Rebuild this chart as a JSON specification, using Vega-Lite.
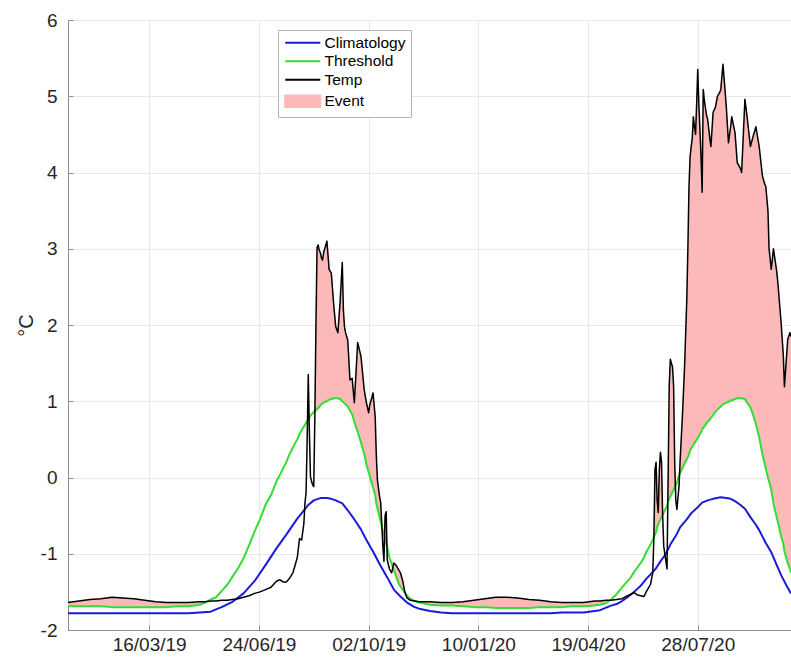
{
"$schema": "https://vega.github.io/schema/vega-lite/v6.json",
"width": 723, "height": 610,
"autosize": "none",
"padding": {"left": 68, "top": 20, "right": 0, "bottom": 29},
"background": "white",
"config": {
 "view": {"stroke": "#d9d9d9", "strokeWidth": 1},
 "font": "Liberation Sans",
 "axis": {"labelFont": "Liberation Sans", "labelFontSize": 19, "labelColor": "#262626", "gridColor": "#e8e8e8", "domainColor": "#8c8c8c", "tickColor": "#8c8c8c", "tickSize": -5, "titleFont": "Liberation Sans", "titleFontSize": 20, "titleFontWeight": "normal", "titleColor": "#262626"}
},
"data": {"values": [
{"date":"2019-01-01","temp":-1.64,"thr":-1.69,"ev":-1.64,"clim":-1.78},
{"date":"2019-01-11","temp":-1.62,"thr":-1.69,"ev":-1.62,"clim":-1.78},
{"date":"2019-01-21","temp":-1.60,"thr":-1.69,"ev":-1.60,"clim":-1.78},
{"date":"2019-01-31","temp":-1.59,"thr":-1.69,"ev":-1.59,"clim":-1.78},
{"date":"2019-02-10","temp":-1.57,"thr":-1.70,"ev":-1.57,"clim":-1.78},
{"date":"2019-02-20","temp":-1.58,"thr":-1.70,"ev":-1.58,"clim":-1.78},
{"date":"2019-03-02","temp":-1.59,"thr":-1.70,"ev":-1.59,"clim":-1.78},
{"date":"2019-03-12","temp":-1.61,"thr":-1.70,"ev":-1.61,"clim":-1.78},
{"date":"2019-03-22","temp":-1.63,"thr":-1.70,"ev":-1.63,"clim":-1.78},
{"date":"2019-04-01","temp":-1.64,"thr":-1.70,"ev":-1.64,"clim":-1.78},
{"date":"2019-04-11","temp":-1.64,"thr":-1.69,"ev":-1.64,"clim":-1.78},
{"date":"2019-04-21","temp":-1.64,"thr":-1.69,"ev":-1.64,"clim":-1.78},
{"date":"2019-05-01","temp":-1.63,"thr":-1.67,"ev":-1.63,"clim":-1.77},
{"date":"2019-05-06","temp":-1.63,"thr":-1.64,"ev":-1.63},
{"date":"2019-05-11","temp":-1.62,"thr":-1.60,"ev":-1.60,"clim":-1.76},
{"date":"2019-05-16","temp":-1.62,"thr":-1.57,"ev":-1.57},
{"date":"2019-05-21","temp":-1.61,"thr":-1.49,"ev":-1.49,"clim":-1.70},
{"date":"2019-05-26","temp":-1.61,"thr":-1.41,"ev":-1.41},
{"date":"2019-05-31","temp":-1.60,"thr":-1.30,"ev":-1.30,"clim":-1.63},
{"date":"2019-06-05","temp":-1.59,"thr":-1.19,"ev":-1.19},
{"date":"2019-06-10","temp":-1.57,"thr":-1.06,"ev":-1.06,"clim":-1.52},
{"date":"2019-06-15","temp":-1.55,"thr":-0.89,"ev":-0.89},
{"date":"2019-06-20","temp":-1.52,"thr":-0.71,"ev":-0.71,"clim":-1.36},
{"date":"2019-06-25","temp":-1.50,"thr":-0.55,"ev":-0.55},
{"date":"2019-06-30","temp":-1.47,"thr":-0.36,"ev":-0.36,"clim":-1.15},
{"date":"2019-07-05","temp":-1.44,"thr":-0.23,"ev":-0.23},
{"date":"2019-07-10","temp":-1.36,"thr":-0.05,"ev":-0.05,"clim":-0.93},
{"date":"2019-07-13","temp":-1.34,"thr":0.03,"ev":0.03},
{"date":"2019-07-16","temp":-1.37,"thr":0.12,"ev":0.12},
{"date":"2019-07-19","temp":-1.37,"thr":0.20,"ev":0.20,"clim":-0.75},
{"date":"2019-07-22","temp":-1.32,"thr":0.31,"ev":0.31},
{"date":"2019-07-25","temp":-1.25,"thr":0.39,"ev":0.39},
{"date":"2019-07-27","temp":-1.15,"thr":0.45,"ev":0.45},
{"date":"2019-07-29","temp":-1.05,"thr":0.50,"ev":0.50,"clim":-0.54},
{"date":"2019-07-31","temp":-0.80,"thr":0.57,"ev":0.57},
{"date":"2019-08-02","temp":-0.82,"thr":0.62,"ev":0.62},
{"date":"2019-08-04","temp":-0.60,"thr":0.67,"ev":0.67},
{"date":"2019-08-05","temp":-0.33,"thr":0.69,"ev":0.69},
{"date":"2019-08-06","temp":-0.20,"thr":0.72,"ev":0.72},
{"date":"2019-08-07","temp":0.50,"thr":0.74,"ev":0.74},
{"date":"2019-08-08","temp":1.35,"thr":0.76,"ev":1.35,"clim":-0.36},
{"date":"2019-08-09","temp":0.60,"thr":0.79,"ev":0.79},
{"date":"2019-08-10","temp":0.01,"thr":0.81,"ev":0.81},
{"date":"2019-08-11","temp":-0.05,"thr":0.83,"ev":0.83},
{"date":"2019-08-12","temp":-0.10,"thr":0.84,"ev":0.84},
{"date":"2019-08-13","temp":-0.12,"thr":0.86,"ev":0.86,"clim":-0.30},
{"date":"2019-08-14","temp":0.80,"thr":0.87,"ev":0.87},
{"date":"2019-08-15","temp":2.00,"thr":0.88,"ev":2.00},
{"date":"2019-08-16","temp":3.02,"thr":0.90,"ev":3.02},
{"date":"2019-08-17","temp":3.05,"thr":0.91,"ev":3.05},
{"date":"2019-08-18","temp":2.98,"thr":0.92,"ev":2.98},
{"date":"2019-08-19","temp":2.95,"thr":0.95,"ev":2.95,"clim":-0.27},
{"date":"2019-08-20","temp":2.88,"thr":0.96,"ev":2.88},
{"date":"2019-08-21","temp":2.85,"thr":0.97,"ev":2.85},
{"date":"2019-08-22","temp":2.95,"thr":0.98,"ev":2.95},
{"date":"2019-08-23","temp":3.00,"thr":0.99,"ev":3.00},
{"date":"2019-08-25","temp":3.10,"thr":1.00,"ev":3.10,"clim":-0.27},
{"date":"2019-08-27","temp":2.73,"thr":1.02,"ev":2.73},
{"date":"2019-08-29","temp":2.68,"thr":1.03,"ev":2.68,"clim":-0.28},
{"date":"2019-08-31","temp":2.30,"thr":1.04,"ev":2.30},
{"date":"2019-09-02","temp":1.98,"thr":1.04,"ev":1.98,"clim":-0.30},
{"date":"2019-09-04","temp":1.90,"thr":1.04,"ev":1.90},
{"date":"2019-09-06","temp":2.30,"thr":1.03,"ev":2.30},
{"date":"2019-09-08","temp":2.82,"thr":1.00,"ev":2.82,"clim":-0.34},
{"date":"2019-09-09","temp":2.20,"thr":0.99,"ev":2.20},
{"date":"2019-09-10","temp":1.98,"thr":0.97,"ev":1.98},
{"date":"2019-09-11","temp":1.90,"thr":0.96,"ev":1.90},
{"date":"2019-09-13","temp":1.80,"thr":0.93,"ev":1.80,"clim":-0.43},
{"date":"2019-09-15","temp":1.28,"thr":0.88,"ev":1.28},
{"date":"2019-09-17","temp":1.30,"thr":0.83,"ev":1.30},
{"date":"2019-09-19","temp":0.98,"thr":0.73,"ev":0.98,"clim":-0.55},
{"date":"2019-09-21","temp":1.50,"thr":0.64,"ev":1.50},
{"date":"2019-09-22","temp":1.77,"thr":0.60,"ev":1.77},
{"date":"2019-09-24","temp":1.65,"thr":0.51,"ev":1.65},
{"date":"2019-09-25","temp":1.59,"thr":0.46,"ev":1.59,"clim":-0.68},
{"date":"2019-09-27","temp":1.30,"thr":0.36,"ev":1.30},
{"date":"2019-09-28","temp":1.15,"thr":0.31,"ev":1.15},
{"date":"2019-09-30","temp":0.98,"thr":0.17,"ev":0.98,"clim":-0.82},
{"date":"2019-10-02","temp":0.85,"thr":0.07,"ev":0.85},
{"date":"2019-10-03","temp":0.95,"thr":0.02,"ev":0.95},
{"date":"2019-10-05","temp":1.05,"thr":-0.08,"ev":1.05},
{"date":"2019-10-06","temp":1.11,"thr":-0.13,"ev":1.11,"clim":-0.97},
{"date":"2019-10-08","temp":0.80,"thr":-0.23,"ev":0.80},
{"date":"2019-10-09","temp":0.30,"thr":-0.34,"ev":0.30},
{"date":"2019-10-10","temp":-0.03,"thr":-0.40,"ev":-0.03},
{"date":"2019-10-12","temp":-0.25,"thr":-0.52,"ev":-0.25},
{"date":"2019-10-13","temp":-0.33,"thr":-0.58,"ev":-0.33,"clim":-1.16},
{"date":"2019-10-15","temp":-0.90,"thr":-0.70,"ev":-0.70},
{"date":"2019-10-16","temp":-1.10,"thr":-0.75,"ev":-0.75},
{"date":"2019-10-17","temp":-0.50,"thr":-0.81,"ev":-0.50},
{"date":"2019-10-18","temp":-0.45,"thr":-0.86,"ev":-0.45},
{"date":"2019-10-19","temp":-1.08,"thr":-0.91,"ev":-0.91,"clim":-1.31},
{"date":"2019-10-21","temp":-1.20,"thr":-1.05,"ev":-1.05},
{"date":"2019-10-23","temp":-1.25,"thr":-1.13,"ev":-1.13},
{"date":"2019-10-25","temp":-1.12,"thr":-1.22,"ev":-1.12,"clim":-1.47},
{"date":"2019-10-27","temp":-1.15,"thr":-1.29,"ev":-1.15},
{"date":"2019-10-29","temp":-1.20,"thr":-1.38,"ev":-1.20},
{"date":"2019-10-31","temp":-1.25,"thr":-1.43,"ev":-1.25,"clim":-1.56},
{"date":"2019-11-02","temp":-1.35,"thr":-1.47,"ev":-1.35},
{"date":"2019-11-04","temp":-1.50,"thr":-1.51,"ev":-1.50},
{"date":"2019-11-06","temp":-1.58,"thr":-1.55,"ev":-1.55,"clim":-1.64},
{"date":"2019-11-09","temp":-1.61,"thr":-1.59,"ev":-1.59},
{"date":"2019-11-13","temp":-1.62,"thr":-1.62,"ev":-1.62,"clim":-1.70},
{"date":"2019-11-17","temp":-1.63,"thr":-1.64,"ev":-1.63,"clim":-1.72},
{"date":"2019-11-27","temp":-1.63,"thr":-1.67,"ev":-1.63,"clim":-1.75},
{"date":"2019-12-07","temp":-1.64,"thr":-1.68,"ev":-1.64,"clim":-1.77},
{"date":"2019-12-17","temp":-1.64,"thr":-1.68,"ev":-1.64,"clim":-1.78},
{"date":"2019-12-27","temp":-1.63,"thr":-1.69,"ev":-1.63,"clim":-1.78},
{"date":"2020-01-06","temp":-1.61,"thr":-1.70,"ev":-1.61,"clim":-1.78},
{"date":"2020-01-16","temp":-1.59,"thr":-1.70,"ev":-1.59,"clim":-1.78},
{"date":"2020-01-26","temp":-1.57,"thr":-1.71,"ev":-1.57,"clim":-1.78},
{"date":"2020-02-05","temp":-1.57,"thr":-1.71,"ev":-1.57,"clim":-1.78},
{"date":"2020-02-15","temp":-1.58,"thr":-1.71,"ev":-1.58,"clim":-1.78},
{"date":"2020-02-25","temp":-1.60,"thr":-1.71,"ev":-1.60,"clim":-1.78},
{"date":"2020-03-06","temp":-1.61,"thr":-1.70,"ev":-1.61,"clim":-1.78},
{"date":"2020-03-16","temp":-1.63,"thr":-1.70,"ev":-1.63,"clim":-1.78},
{"date":"2020-03-26","temp":-1.64,"thr":-1.70,"ev":-1.64,"clim":-1.77},
{"date":"2020-04-05","temp":-1.64,"thr":-1.69,"ev":-1.64,"clim":-1.77},
{"date":"2020-04-15","temp":-1.64,"thr":-1.69,"ev":-1.64,"clim":-1.77},
{"date":"2020-04-25","temp":-1.62,"thr":-1.68,"ev":-1.62,"clim":-1.75},
{"date":"2020-04-30","temp":-1.62,"thr":-1.67,"ev":-1.62,"clim":-1.74},
{"date":"2020-05-05","temp":-1.61,"thr":-1.65,"ev":-1.61,"clim":-1.71},
{"date":"2020-05-10","temp":-1.61,"thr":-1.60,"ev":-1.60,"clim":-1.68},
{"date":"2020-05-15","temp":-1.60,"thr":-1.53,"ev":-1.53,"clim":-1.66},
{"date":"2020-05-20","temp":-1.59,"thr":-1.44,"ev":-1.44,"clim":-1.62},
{"date":"2020-05-25","temp":-1.55,"thr":-1.36,"ev":-1.36,"clim":-1.57},
{"date":"2020-05-28","temp":-1.53,"thr":-1.31,"ev":-1.31},
{"date":"2020-05-31","temp":-1.51,"thr":-1.24,"ev":-1.24,"clim":-1.50},
{"date":"2020-06-03","temp":-1.54,"thr":-1.18,"ev":-1.18},
{"date":"2020-06-06","temp":-1.55,"thr":-1.12,"ev":-1.12,"clim":-1.42},
{"date":"2020-06-09","temp":-1.56,"thr":-1.05,"ev":-1.05},
{"date":"2020-06-11","temp":-1.50,"thr":-0.98,"ev":-0.98,"clim":-1.33},
{"date":"2020-06-13","temp":-1.45,"thr":-0.93,"ev":-0.93},
{"date":"2020-06-15","temp":-1.40,"thr":-0.88,"ev":-0.88,"clim":-1.27},
{"date":"2020-06-16","temp":-1.32,"thr":-0.85,"ev":-0.85},
{"date":"2020-06-17","temp":-1.25,"thr":-0.82,"ev":-0.82},
{"date":"2020-06-18","temp":-0.80,"thr":-0.78,"ev":-0.78},
{"date":"2020-06-19","temp":0.10,"thr":-0.75,"ev":0.10},
{"date":"2020-06-20","temp":0.20,"thr":-0.72,"ev":0.20,"clim":-1.19},
{"date":"2020-06-21","temp":-0.30,"thr":-0.65,"ev":-0.30},
{"date":"2020-06-22","temp":-0.46,"thr":-0.62,"ev":-0.46},
{"date":"2020-06-23","temp":0.10,"thr":-0.58,"ev":0.10},
{"date":"2020-06-24","temp":0.33,"thr":-0.55,"ev":0.33,"clim":-1.10},
{"date":"2020-06-25","temp":0.20,"thr":-0.52,"ev":0.20},
{"date":"2020-06-26","temp":-0.50,"thr":-0.49,"ev":-0.49},
{"date":"2020-06-27","temp":-0.90,"thr":-0.46,"ev":-0.46},
{"date":"2020-06-29","temp":-1.10,"thr":-0.40,"ev":-0.40,"clim":-1.00},
{"date":"2020-06-30","temp":-1.20,"thr":-0.37,"ev":-0.37},
{"date":"2020-07-01","temp":0.00,"thr":-0.31,"ev":0.00},
{"date":"2020-07-02","temp":1.20,"thr":-0.28,"ev":1.20},
{"date":"2020-07-03","temp":1.55,"thr":-0.25,"ev":1.55,"clim":-0.88},
{"date":"2020-07-04","temp":1.50,"thr":-0.22,"ev":1.50},
{"date":"2020-07-05","temp":1.45,"thr":-0.19,"ev":1.45},
{"date":"2020-07-06","temp":1.20,"thr":-0.16,"ev":1.20},
{"date":"2020-07-07","temp":0.20,"thr":-0.13,"ev":0.20},
{"date":"2020-07-08","temp":-0.30,"thr":-0.10,"ev":-0.10},
{"date":"2020-07-09","temp":-0.42,"thr":-0.07,"ev":-0.07,"clim":-0.74},
{"date":"2020-07-11","temp":-0.10,"thr":0.03,"ev":0.03},
{"date":"2020-07-12","temp":0.24,"thr":0.06,"ev":0.24,"clim":-0.65},
{"date":"2020-07-14","temp":0.80,"thr":0.12,"ev":0.80},
{"date":"2020-07-16","temp":1.46,"thr":0.18,"ev":1.46},
{"date":"2020-07-18","temp":2.33,"thr":0.24,"ev":2.33,"clim":-0.55},
{"date":"2020-07-19","temp":3.00,"thr":0.27,"ev":3.00},
{"date":"2020-07-20","temp":3.80,"thr":0.30,"ev":3.80},
{"date":"2020-07-21","temp":4.20,"thr":0.35,"ev":4.20},
{"date":"2020-07-22","temp":4.34,"thr":0.38,"ev":4.34,"clim":-0.47},
{"date":"2020-07-23","temp":4.45,"thr":0.40,"ev":4.45},
{"date":"2020-07-24","temp":4.73,"thr":0.43,"ev":4.73},
{"date":"2020-07-25","temp":4.60,"thr":0.45,"ev":4.60},
{"date":"2020-07-26","temp":4.50,"thr":0.47,"ev":4.50},
{"date":"2020-07-27","temp":4.90,"thr":0.50,"ev":4.90},
{"date":"2020-07-28","temp":5.35,"thr":0.52,"ev":5.35,"clim":-0.39},
{"date":"2020-07-29","temp":4.90,"thr":0.54,"ev":4.90},
{"date":"2020-07-30","temp":4.56,"thr":0.57,"ev":4.56},
{"date":"2020-07-31","temp":4.20,"thr":0.59,"ev":4.20},
{"date":"2020-08-01","temp":3.74,"thr":0.63,"ev":3.74,"clim":-0.33},
{"date":"2020-08-02","temp":5.09,"thr":0.65,"ev":5.09},
{"date":"2020-08-03","temp":4.95,"thr":0.67,"ev":4.95},
{"date":"2020-08-04","temp":4.85,"thr":0.69,"ev":4.85},
{"date":"2020-08-05","temp":4.75,"thr":0.71,"ev":4.75},
{"date":"2020-08-06","temp":4.70,"thr":0.73,"ev":4.70,"clim":-0.30},
{"date":"2020-08-08","temp":4.45,"thr":0.76,"ev":4.45},
{"date":"2020-08-09","temp":4.34,"thr":0.78,"ev":4.34},
{"date":"2020-08-11","temp":4.79,"thr":0.82,"ev":4.79,"clim":-0.28},
{"date":"2020-08-13","temp":4.85,"thr":0.86,"ev":4.85},
{"date":"2020-08-15","temp":5.00,"thr":0.89,"ev":5.00},
{"date":"2020-08-17","temp":5.05,"thr":0.92,"ev":5.05},
{"date":"2020-08-18","temp":5.09,"thr":0.93,"ev":5.09,"clim":-0.26},
{"date":"2020-08-20","temp":5.42,"thr":0.96,"ev":5.42},
{"date":"2020-08-23","temp":4.87,"thr":0.98,"ev":4.87,"clim":-0.27},
{"date":"2020-08-25","temp":4.39,"thr":0.99,"ev":4.39},
{"date":"2020-08-27","temp":4.60,"thr":1.01,"ev":4.60,"clim":-0.28},
{"date":"2020-08-28","temp":4.73,"thr":1.01,"ev":4.73},
{"date":"2020-08-31","temp":4.52,"thr":1.03,"ev":4.52,"clim":-0.31},
{"date":"2020-09-02","temp":4.13,"thr":1.04,"ev":4.13},
{"date":"2020-09-05","temp":4.05,"thr":1.04,"ev":4.05,"clim":-0.36},
{"date":"2020-09-06","temp":4.00,"thr":1.04,"ev":4.00},
{"date":"2020-09-09","temp":4.96,"thr":1.03,"ev":4.96,"clim":-0.41},
{"date":"2020-09-11","temp":4.73,"thr":0.98,"ev":4.73},
{"date":"2020-09-14","temp":4.34,"thr":0.92,"ev":4.34,"clim":-0.52},
{"date":"2020-09-16","temp":4.45,"thr":0.84,"ev":4.45},
{"date":"2020-09-19","temp":4.60,"thr":0.70,"ev":4.60,"clim":-0.62},
{"date":"2020-09-22","temp":4.34,"thr":0.53,"ev":4.34,"clim":-0.69},
{"date":"2020-09-25","temp":3.95,"thr":0.30,"ev":3.95},
{"date":"2020-09-27","temp":3.85,"thr":0.18,"ev":3.85},
{"date":"2020-09-28","temp":3.82,"thr":0.12,"ev":3.82,"clim":-0.86},
{"date":"2020-09-30","temp":3.50,"thr":0.00,"ev":3.50},
{"date":"2020-10-01","temp":3.00,"thr":-0.05,"ev":3.00},
{"date":"2020-10-03","temp":2.73,"thr":-0.16,"ev":2.73,"clim":-0.98},
{"date":"2020-10-05","temp":3.00,"thr":-0.34,"ev":3.00},
{"date":"2020-10-06","temp":2.90,"thr":-0.40,"ev":2.90},
{"date":"2020-10-08","temp":2.70,"thr":-0.52,"ev":2.70,"clim":-1.15},
{"date":"2020-10-09","temp":2.56,"thr":-0.58,"ev":2.56},
{"date":"2020-10-12","temp":2.03,"thr":-0.77,"ev":2.03,"clim":-1.28},
{"date":"2020-10-14","temp":1.60,"thr":-0.87,"ev":1.60},
{"date":"2020-10-15","temp":1.19,"thr":-0.97,"ev":1.19},
{"date":"2020-10-17","temp":1.60,"thr":-1.07,"ev":1.60,"clim":-1.42},
{"date":"2020-10-18","temp":1.81,"thr":-1.12,"ev":1.81},
{"date":"2020-10-20","temp":1.90,"thr":-1.20,"ev":1.90},
{"date":"2020-10-21","temp":1.85,"thr":-1.25,"ev":1.85,"clim":-1.52}
]},
"encoding": {
 "x": {"field": "date", "type": "temporal",
  "scale": {"type": "utc", "domain": [{"year":2019,"month":1,"date":1,"utc":true},{"year":2020,"month":10,"date":21,"utc":true}]},
  "axis": {"title": null, "grid": true, "format": "%d/%m/%y", "labelPadding": 10, "labelOverlap": false, "labelFlush": false,
   "values": [{"year":2019,"month":3,"date":16,"utc":true},{"year":2019,"month":6,"date":24,"utc":true},{"year":2019,"month":10,"date":2,"utc":true},{"year":2020,"month":1,"date":10,"utc":true},{"year":2020,"month":4,"date":19,"utc":true},{"year":2020,"month":7,"date":28,"utc":true}]}}
},
"layer": [
 {"mark": {"type": "area", "interpolate": "linear"},
  "encoding": {
   "y": {"field": "ev", "type": "quantitative", "title": "°C",
    "scale": {"domain": [-2, 6], "nice": false, "zero": false},
    "axis": {"grid": true, "values": [-2,-1,0,1,2,3,4,5,6], "labelExpr": "'' + datum.value", "labelPadding": 16, "titlePadding": 4}},
   "y2": {"field": "thr"},
   "color": {"datum": "Event", "type": "nominal",
    "scale": {"domain": ["Climatology","Threshold","Temp","Event"], "range": ["#1a1ad9","#33dd33","#000000","#fbb9b9"]},
    "legend": {"orient": "none", "legendX": 210, "legendY": 10, "title": null, "padding": 5,
     "strokeColor": "#b5b5b5", "fillColor": "white",
     "labelFont": "Liberation Sans", "labelFontSize": 15.5, "labelColor": "#000000",
     "symbolType": "M-3,0H3", "symbolSize": 136, "symbolStrokeWidth": 2, "symbolOffset": 12,
     "labelOffset": 14, "rowPadding": 1.5,
     "encode": {"symbols": {"update": {
      "shape": {"signal": "datum.value === 'Event' ? 'M-3,-1H3V1H-3Z' : 'M-3,0H3'"},
      "fill": {"signal": "datum.value === 'Event' ? '#fbb9b9' : 'transparent'"},
      "stroke": {"signal": "datum.value === 'Event' ? '#fbb9b9' : datum.value === 'Climatology' ? '#1a1ad9' : datum.value === 'Threshold' ? '#33dd33' : '#000000'"},
      "strokeWidth": {"value": 2},
      "opacity": {"value": 1}}}}}}
  }},
 {"transform": [{"filter": "isValid(datum.clim)"}],
  "mark": {"type": "line", "strokeWidth": 2, "strokeJoin": "round"},
  "encoding": {"y": {"field": "clim", "type": "quantitative", "title": "°C"}, "color": {"datum": "Climatology", "type": "nominal"}}},
 {"mark": {"type": "line", "strokeWidth": 2, "strokeJoin": "round"},
  "encoding": {"y": {"field": "thr", "type": "quantitative", "title": "°C"}, "color": {"datum": "Threshold", "type": "nominal"}}},
 {"mark": {"type": "line", "strokeWidth": 1.5, "strokeJoin": "round"},
  "encoding": {"y": {"field": "temp", "type": "quantitative", "title": "°C"}, "color": {"datum": "Temp", "type": "nominal"}}}
]
}
